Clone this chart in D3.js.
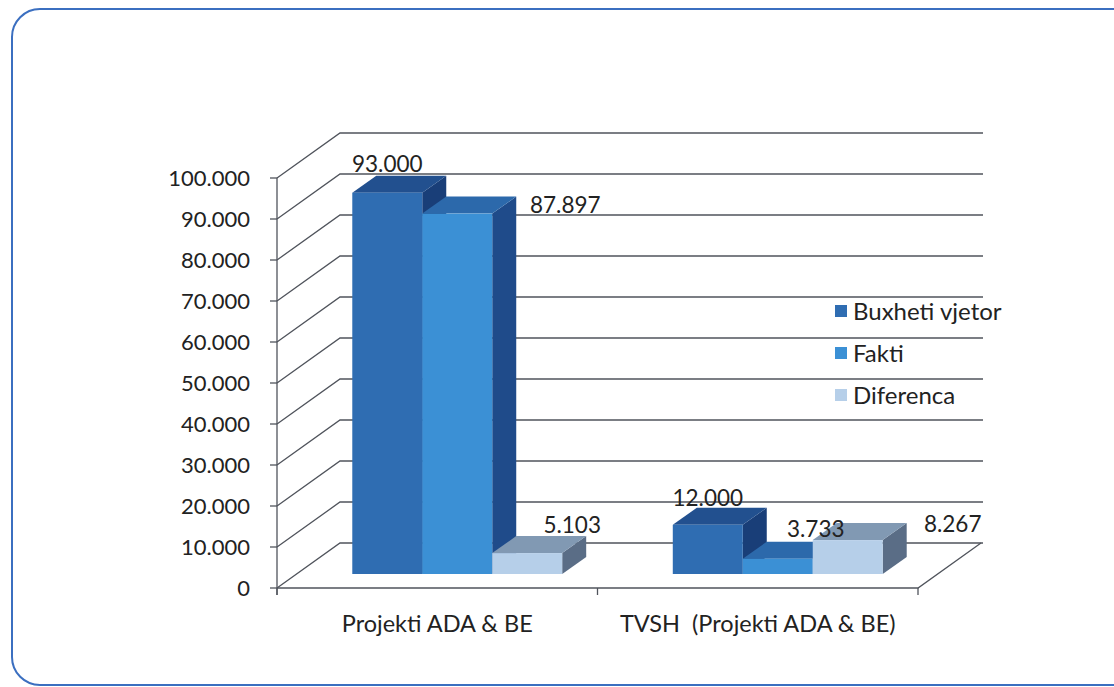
<!DOCTYPE html>
<html>
<head>
<meta charset="utf-8">
<style>
  body { margin: 0; background: #fff; }
  svg { display: block; font-family: Lato, "Open Sans", sans-serif; }
</style>
<script src="https://d3js.org/d3.v7.min.js"></script>
</head>
<body>
<svg width="1114" height="687"></svg>
<script>
// data
var categories = ["Projekti ADA & BE", "TVSH  (Projekti ADA & BE)"];
var seriesNames = ["Buxheti vjetor", "Fakti", "Diferenca"];
var buxheti = [93000, 12000];
var fakti = [87897, 3733];
var diferenca = [5103, 8267];
var yTicks = [0, 10000, 20000, 30000, 40000, 50000, 60000, 70000, 80000, 90000, 100000];

var values = [buxheti, fakti, diferenca];

// colours per series: front, top, side
var colors = [
  {front: "#2f6db2", top: "#22508f", side: "#193e78"},
  {front: "#3b90d5", top: "#2c69ab", side: "#1f4b8a"},
  {front: "#b6cfe9", top: "#8199b3", side: "#5a6d86"}
];

// label nudges relative to the top-back centre of each bar [series][category]
var labelNudge = [
  [[-24, -4], [-24, -2]],
  [[84, 16], [14, -5]],
  [[21, -3], [81, 9]]
];

var svg = d3.select("svg");

// rounded frame
svg.append("rect")
  .attr("x", 12).attr("y", 9)
  .attr("width", 1130).attr("height", 676)
  .attr("rx", 28)
  .attr("fill", "none")
  .attr("stroke", "#3b6fc0")
  .attr("stroke-width", 2);

var x0 = d3.scaleBand()
  .domain(categories)
  .range([277, 918])
  .paddingInner(0.345)
  .paddingOuter(0.1725);

var x1 = d3.scaleBand()
  .domain(seriesNames)
  .range([0, x0.bandwidth()]);

var y = d3.scaleLinear().domain([0, 100000]).range([588, 178]);

// depth of the whole floor and of the bars
var depth = {dx: 63, dy: -45};
var barFront = {dx: 20, dy: -14};
var barDepth = {dx: 24, dy: -17};

var grid = svg.append("g").attr("stroke", "#50545c").attr("stroke-width", 1.3).attr("fill", "none");

// back wall gridlines with diagonal run to the front axis
yTicks.forEach(function(t) {
  var yf = y(t);
  grid.append("path")
    .attr("d", "M" + x0.range()[0] + "," + yf +
      "L" + (x0.range()[0] + depth.dx) + "," + (yf + depth.dy) +
      "H" + (x0.range()[1] + depth.dx + 2));
});

// front axis
var xl = x0.range()[0], xr = x0.range()[1];
grid.append("path").attr("d", "M" + xl + "," + y(100000) + "V" + (y(0) + 7));
grid.append("path").attr("d", "M" + xl + "," + y(0) + "H" + xr + "L" + (xr + depth.dx) + "," + (y(0) + depth.dy));
yTicks.forEach(function(t) {
  grid.append("path").attr("d", "M" + (xl - 7) + "," + y(t) + "H" + xl);
});
[xl, xl + x0.step(), xr].forEach(function(px) {
  grid.append("path").attr("d", "M" + px + "," + y(0) + "V" + (y(0) + 7));
});

// y tick labels
svg.append("g")
  .selectAll("text")
  .data(yTicks)
  .join("text")
  .attr("x", 250)
  .attr("y", function(d) { return y(d); })
  .attr("dy", "0.36em")
  .attr("text-anchor", "end")
  .attr("font-size", 22)
  .attr("fill", "#222")
  .text(function(d) { return d3.format(",")(d).replace(/,/g, "."); });

// bars
var bars = svg.append("g");
var labels = [];
categories.forEach(function(c, ci) {
  seriesNames.forEach(function(s, si) {
    var v = values[si][ci];
    var xa = x0(c) + x1(s) + barFront.dx;
    var xb = xa + x1.bandwidth();
    var yt = y(v) + barFront.dy;
    var yb = y(0) + barFront.dy;
    var col = colors[si];
    var g = bars.append("g");
    g.append("path").attr("fill", col.side)
      .attr("d", "M" + xb + "," + yt + "L" + (xb + barDepth.dx) + "," + (yt + barDepth.dy) +
        "L" + (xb + barDepth.dx) + "," + (yb + barDepth.dy) + "L" + xb + "," + yb + "Z");
    g.append("path").attr("fill", col.top)
      .attr("d", "M" + xa + "," + yt + "L" + xb + "," + yt +
        "L" + (xb + barDepth.dx) + "," + (yt + barDepth.dy) +
        "L" + (xa + barDepth.dx) + "," + (yt + barDepth.dy) + "Z");
    g.append("rect").attr("fill", col.front)
      .attr("x", xa).attr("y", yt)
      .attr("width", xb - xa).attr("height", yb - yt);
    var n = labelNudge[si][ci];
    labels.push({
      x: (xa + xb) / 2 + barDepth.dx + n[0],
      y: yt + barDepth.dy + n[1],
      text: d3.format(",")(v).replace(/,/g, ".")
    });
  });
});

svg.append("g")
  .selectAll("text")
  .data(labels)
  .join("text")
  .attr("x", function(d) { return d.x; })
  .attr("y", function(d) { return d.y; })
  .attr("text-anchor", "middle")
  .attr("font-size", 22.5)
  .attr("fill", "#222")
  .text(function(d) { return d.text; });

// category labels
svg.append("g")
  .selectAll("text")
  .data(categories)
  .join("text")
  .attr("x", function(d) { return x0(d) - x0.step() * x0.paddingInner() / 2 + x0.step() / 2; })
  .attr("y", 632)
  .attr("text-anchor", "middle")
  .attr("font-size", 23.5)
  .attr("fill", "#222")
  .style("white-space", "pre")
  .text(function(d) { return d; });

// legend
var legend = svg.append("g").attr("transform", "translate(835,311)");
seriesNames.forEach(function(s, i) {
  var row = legend.append("g").attr("transform", "translate(0," + (i * 42) + ")");
  row.append("rect").attr("x", 0).attr("y", -6).attr("width", 12).attr("height", 12)
    .attr("fill", colors[i].front);
  row.append("text").attr("x", 18).attr("y", 0).attr("dy", "0.36em")
    .attr("font-size", 24).attr("fill", "#222").text(s);
});
</script>
</body>
</html>
